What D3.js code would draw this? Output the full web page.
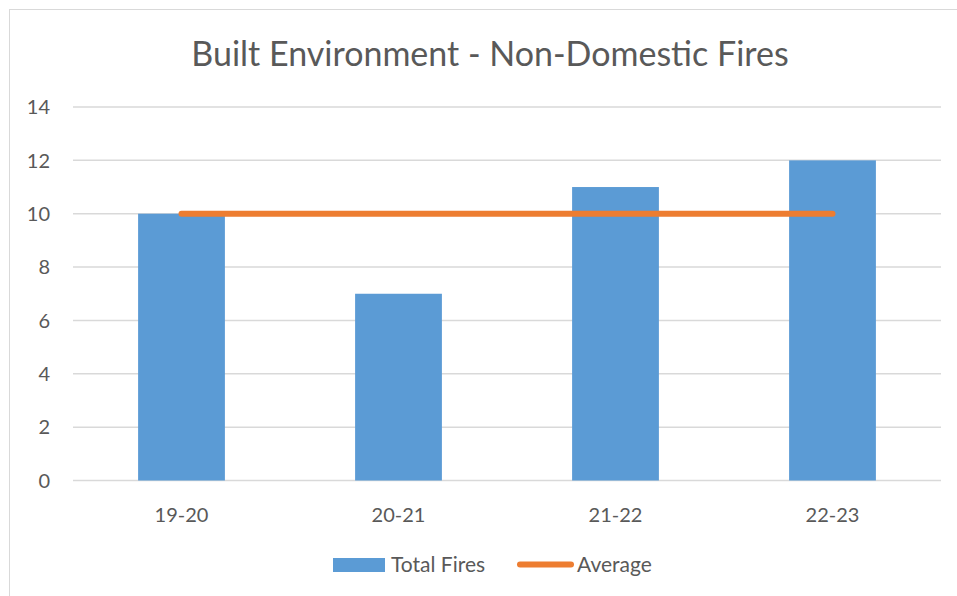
<!DOCTYPE html>
<html>
<head>
<meta charset="utf-8">
<script src="https://cdn.jsdelivr.net/npm/d3@7"></script>
<style>
  body { margin: 0; background: #fff; }
  svg text { font-family: Lato, "Open Sans", sans-serif; fill: #595959; }
</style>
</head>
<body>
<div id="chart"></div>
<script>
const categories = [`19-20`, `20-21`, `21-22`, `22-23`];
const totalFires = [10, 7, 11, 12];
const average = [10, 10, 10, 10];
const yTicks = [0, 2, 4, 6, 8, 10, 12, 14];

const width = 957;
const height = 596;
const margin = { top: 107, right: 16, bottom: 115.5, left: 73 };

const svg = d3.select(`#chart`).append(`svg`)
  .attr(`width`, width)
  .attr(`height`, height);

// chart frame
svg.append(`rect`)
  .attr(`x`, 9.5).attr(`y`, 9.5)
  .attr(`width`, 960).attr(`height`, 600)
  .attr(`fill`, `none`)
  .attr(`stroke`, `#d9d9d9`);

const x = d3.scaleBand()
  .domain(categories)
  .range([margin.left, width - margin.right])
  .paddingInner(0.6)
  .paddingOuter(0.3);

const y = d3.scaleLinear()
  .domain([0, 14])
  .range([height - margin.bottom, margin.top]);

// gridlines
svg.append(`g`)
  .selectAll(`line`)
  .data(yTicks)
  .enter().append(`line`)
    .attr(`x1`, margin.left)
    .attr(`x2`, width - margin.right)
    .attr(`y1`, (d) => y(d))
    .attr(`y2`, (d) => y(d))
    .attr(`stroke`, `#d9d9d9`)
    .attr(`stroke-width`, 1.5);

// y labels
svg.append(`g`)
  .selectAll(`text`)
  .data(yTicks)
  .enter().append(`text`)
    .attr(`x`, 50)
    .attr(`y`, (d) => y(d))
    .attr(`dy`, `0.36em`)
    .attr(`text-anchor`, `end`)
    .style(`font-size`, `20px`)
    .text((d) => d);

// bars
svg.append(`g`)
  .selectAll(`rect`)
  .data(totalFires)
  .enter().append(`rect`)
    .attr(`x`, (d, i) => x(categories[i]))
    .attr(`y`, (d) => y(d))
    .attr(`width`, x.bandwidth())
    .attr(`height`, (d) => y(0) - y(d))
    .attr(`fill`, `#5b9bd5`);

// average line
const line = d3.line()
  .x((d, i) => x(categories[i]) + x.bandwidth() / 2)
  .y((d) => y(d));

svg.append(`path`)
  .datum(average)
  .attr(`d`, line)
  .attr(`fill`, `none`)
  .attr(`stroke`, `#ed7d31`)
  .attr(`stroke-width`, 6)
  .attr(`stroke-linecap`, `round`);

// x labels
svg.append(`g`)
  .selectAll(`text`)
  .data(categories)
  .enter().append(`text`)
    .attr(`x`, (d) => x(d) + x.bandwidth() / 2)
    .attr(`y`, 522)
    .attr(`text-anchor`, `middle`)
    .style(`font-size`, `20px`)
    .text((d) => d);

// title
svg.append(`text`)
  .attr(`x`, 490)
  .attr(`y`, 66)
  .attr(`text-anchor`, `middle`)
  .style(`font-size`, `34px`)
  .text(`Built Environment - Non-Domestic Fires`);

// legend
const legend = svg.append(`g`);
legend.append(`rect`)
  .attr(`x`, 333).attr(`y`, 558)
  .attr(`width`, 52).attr(`height`, 14)
  .attr(`fill`, `#5b9bd5`);
legend.append(`text`)
  .attr(`x`, 391).attr(`y`, 572)
  .style(`font-size`, `21px`)
  .text(`Total Fires`);
legend.append(`line`)
  .attr(`x1`, 520).attr(`x2`, 571)
  .attr(`y1`, 564.5).attr(`y2`, 564.5)
  .attr(`stroke`, `#ed7d31`)
  .attr(`stroke-width`, 6)
  .attr(`stroke-linecap`, `round`);
legend.append(`text`)
  .attr(`x`, 577).attr(`y`, 572)
  .style(`font-size`, `21px`)
  .text(`Average`);
</script>
</body>
</html>
